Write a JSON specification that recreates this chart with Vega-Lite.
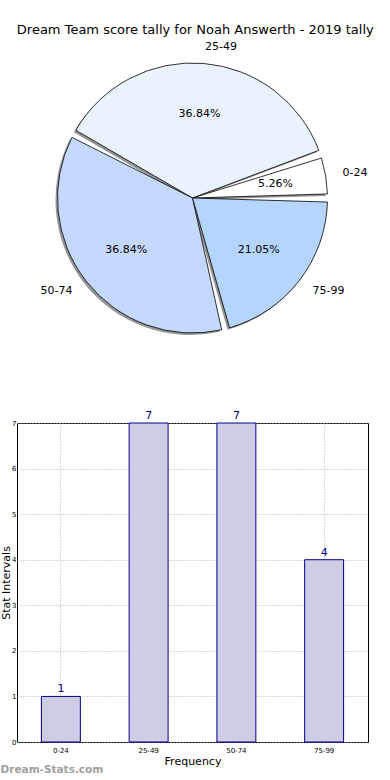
{
  "$schema": "https://vega.github.io/schema/vega-lite/v6.json",
  "padding": {"top": 23, "left": 0, "right": 0, "bottom": 0},
  "background": "white",
  "config": {
    "font": "DejaVu Sans",
    "view": {"stroke": null},
    "concat": {"spacing": 54}
  },
  "title": {
    "text": "Dream Team score tally for Noah Answerth - 2019 tally",
    "fontSize": 13,
    "fontWeight": "normal",
    "color": "#000000",
    "anchor": "middle",
    "offset": 4,
    "dx": 11
  },
  "datasets": {
    "tally": [
      {"label": "0-24", "count": 1, "pct": "5.26%"},
      {"label": "25-49", "count": 7, "pct": "36.84%"},
      {"label": "50-74", "count": 7, "pct": "36.84%"},
      {"label": "75-99", "count": 4, "pct": "21.05%"}
    ]
  },
  "vconcat": [
    {
      "width": 351,
      "height": 314,
      "data": {"name": "tally"},
      "encoding": {
        "theta": {"field": "count", "type": "quantitative", "stack": true, "scale": {"range": [1.5708, 7.854]}},
        "order": {"field": "label", "sort": "descending"}
      },
      "layer": [
        {
          "mark": {"type": "arc", "radius": 135, "padAngle": 0.06, "fill": "#8a8a8a", "xOffset": -2, "yOffset": 2, "opacity": 0.9}
        },
        {
          "mark": {"type": "arc", "radius": 135, "padAngle": 0.06, "stroke": "#000000", "strokeWidth": 0.8},
          "encoding": {
            "color": {
              "field": "label",
              "type": "nominal",
              "scale": {"domain": ["0-24", "25-49", "50-74", "75-99"], "range": ["#ffffff", "#eaf2ff", "#c5d8ff", "#b5d5ff"]},
              "legend": null
            }
          }
        },
        {
          "mark": {"type": "text", "radius": 84, "fontSize": 11, "color": "#000000", "align": "center", "baseline": "middle"},
          "encoding": {"text": {"field": "pct"}}
        },
        {
          "mark": {"type": "text", "radius": 152, "fontSize": 11, "color": "#000000", "align": "left", "baseline": "middle"},
          "encoding": {"text": {"field": "label", "condition": {"test": "datum.label === '50-74'", "value": ""}}}
        },
        {
          "mark": {"type": "text", "radius": 152, "fontSize": 11, "color": "#000000", "align": "right", "baseline": "middle"},
          "encoding": {"text": {"field": "label", "condition": {"test": "datum.label !== '50-74'", "value": ""}}}
        }
      ]
    },
    {
      "width": 351,
      "height": 319,
      "data": {"name": "tally"},
      "view": {"stroke": "#000000", "strokeWidth": 1},
      "title": {
        "text": "Dream-Stats.com",
        "orient": "bottom",
        "anchor": "start",
        "frame": "bounds",
        "fontSize": 10.5,
        "fontWeight": "bold",
        "color": "#a0a0a0",
        "offset": -1
      },
      "encoding": {
        "x": {
          "field": "label",
          "type": "nominal",
          "sort": null,
          "scale": {"paddingInner": 0.556, "paddingOuter": 0.278},
          "axis": {
            "title": "Frequency",
            "titleFontSize": 11,
            "titleFontWeight": "normal",
            "titleColor": "#000000",
            "titlePadding": 2,
            "labelAngle": 0,
            "labelFontSize": 7,
            "labelColor": "#000000",
            "labelPadding": 4,
            "domain": false,
            "ticks": false,
            "grid": true,
            "gridDash": [1, 2],
            "gridColor": "#b0b0b0",
            "gridWidth": 1
          }
        },
        "y": {
          "field": "count",
          "type": "quantitative",
          "scale": {"domain": [0, 7], "nice": false},
          "axis": {
            "title": "Stat Intervals",
            "titleFontSize": 11,
            "titleFontWeight": "normal",
            "titleColor": "#000000",
            "titlePadding": 0,
            "values": [0, 1, 2, 3, 4, 5, 6, 7],
            "labelFontSize": 7,
            "labelColor": "#000000",
            "labelPadding": 1,
            "domain": false,
            "ticks": false,
            "grid": true,
            "gridDash": [1, 2],
            "gridColor": "#b0b0b0",
            "gridWidth": 1
          }
        }
      },
      "layer": [
        {
          "mark": {"type": "bar", "fill": "#cdcde6", "stroke": "#00008b", "strokeWidth": 1}
        },
        {
          "mark": {"type": "text", "baseline": "bottom", "dy": -2, "fontSize": 11, "color": "#00008b"},
          "encoding": {"text": {"field": "count", "type": "quantitative"}}
        }
      ]
    }
  ]
}
